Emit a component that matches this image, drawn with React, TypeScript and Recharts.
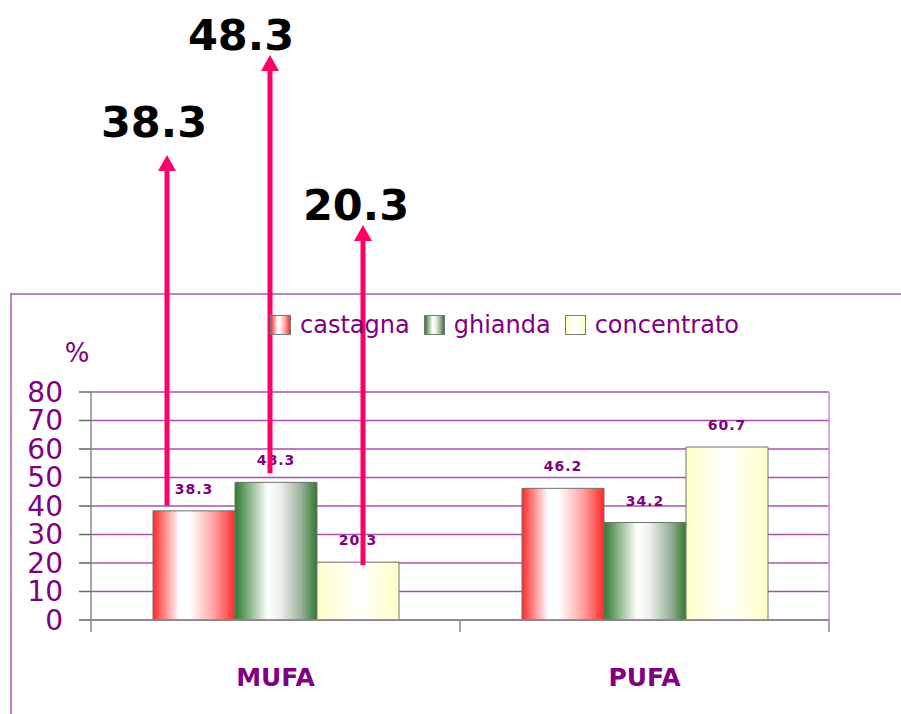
import React from 'react';
import { BarChart, Bar, XAxis, YAxis, CartesianGrid, Legend, LabelList, Label } from 'recharts';

const categories = ['MUFA', 'PUFA'];
const castagna = [38.3, 46.2];
const ghianda = [48.3, 34.2];
const concentrato = [20.3, 60.7];
const yTicks = [0, 10, 20, 30, 40, 50, 60, 70, 80];

const PURPLE = '#800080';
const FONT = '"DejaVu Sans", Verdana, sans-serif';
const PLOT_LEFT = 91;
const PLOT_RIGHT = 829;
const BAND = (PLOT_RIGHT - PLOT_LEFT) / categories.length;

const data = categories.map((name, i) => ({
  name,
  castagna: castagna[i],
  ghianda: ghianda[i],
  concentrato: concentrato[i],
}));

const series = [
  {
    key: 'castagna',
    fill: 'url(#gradCastagna)',
    swatch: 'linear-gradient(90deg,#ff2a2a 0%,#fff 35%,#fff 45%,#ffa0a0 75%,#ff2a2a 100%)',
  },
  {
    key: 'ghianda',
    fill: 'url(#gradGhianda)',
    swatch: 'linear-gradient(90deg,#2f7a2f 0%,#fff 40%,#eef2ee 55%,#9db39d 80%,#2f7a2f 100%)',
  },
  {
    key: 'concentrato',
    fill: 'url(#gradConcentrato)',
    swatch: 'linear-gradient(90deg,#ffffc8 0%,#fff 50%,#ffffc8 100%)',
  },
];

// pink callout arrows over the MUFA bars
const callouts: Record<string, { dx: number; tipY: number; gap: number; labelDx: number; labelY: number }> = {
  castagna: { dx: 14, tipY: 155, gap: 5, labelDx: -13, labelY: 137 },
  ghianda: { dx: 35, tipY: 55, gap: 9, labelDx: -29, labelY: 50 },
  concentrato: { dx: 46, tipY: 225, gap: -3, labelDx: -7, labelY: 220 },
};

const Callout = (props: any) => {
  const { x, y, value, index, seriesKey } = props;
  if (index !== 0) return null;
  const c = callouts[seriesKey];
  const ax = Number(x) + c.dx;
  const bottom = Number(y) - c.gap;
  return (
    <g>
      <line x1={ax} x2={ax} y1={bottom} y2={c.tipY + 12} stroke="#ff0066" strokeWidth={5} />
      <polygon points={`${ax},${c.tipY} ${ax - 9},${c.tipY + 16} ${ax + 9},${c.tipY + 16}`} fill="#ff0066" />
      <text
        x={ax + c.labelDx}
        y={c.labelY}
        textAnchor="middle"
        fontFamily={FONT}
        fontWeight="bold"
        fontSize={43}
        fill="#000"
      >
        {value}
      </text>
    </g>
  );
};

const XTick = (props: any) => {
  const { x, y, payload, index } = props;
  const half = BAND / 2;
  return (
    <g>
      <line x1={x - half} x2={x - half} y1={y} y2={y + 12} stroke="#8a8a8a" strokeWidth={1.5} />
      {index === categories.length - 1 && (
        <line x1={x + half} x2={x + half} y1={y} y2={y + 12} stroke="#8a8a8a" strokeWidth={1.5} />
      )}
      <text x={x} y={y + 66} textAnchor="middle" fontFamily={FONT} fontWeight="bold" fontSize={25} fill={PURPLE}>
        {payload.value}
      </text>
    </g>
  );
};

const LegendBox = () => (
  <div style={{ display: 'flex', alignItems: 'center', fontFamily: FONT, fontSize: 24, color: PURPLE }}>
    {series.map((s) => (
      <span key={s.key} style={{ display: 'flex', alignItems: 'center', marginRight: 14 }}>
        <span
          style={{
            display: 'inline-block',
            width: 19,
            height: 18,
            border: '1px solid #777',
            background: s.swatch,
            marginRight: 9,
          }}
        />
        {s.key}
      </span>
    ))}
  </div>
);

export default function App() {
  return (
    <div style={{ position: 'relative', width: 901, height: 714, overflow: 'hidden', background: '#fff' }}>
      <style>{'body{margin:0}'}</style>
      <div
        style={{
          position: 'absolute',
          left: 10,
          top: 293,
          width: 900,
          height: 430,
          borderTop: '2px solid #c080cc',
          borderLeft: '2px solid #c080cc',
        }}
      />
      <BarChart
        width={901}
        height={714}
        data={data}
        margin={{ top: 392, right: 70, bottom: 14, left: 31 }}
        barSize={82}
        barGap={0}
        style={{ position: 'absolute', left: 0, top: 0 }}
      >
        <defs>
          <linearGradient id="gradCastagna" x1="0" y1="0" x2="1" y2="0">
            <stop offset="0%" stopColor="#ff2a2a" />
            <stop offset="32%" stopColor="#ffffff" />
            <stop offset="45%" stopColor="#ffffff" />
            <stop offset="75%" stopColor="#ffa0a0" />
            <stop offset="100%" stopColor="#ff2a2a" />
          </linearGradient>
          <linearGradient id="gradGhianda" x1="0" y1="0" x2="1" y2="0">
            <stop offset="0%" stopColor="#2f7a2f" />
            <stop offset="40%" stopColor="#ffffff" />
            <stop offset="55%" stopColor="#eef2ee" />
            <stop offset="80%" stopColor="#9db39d" />
            <stop offset="100%" stopColor="#2f7a2f" />
          </linearGradient>
          <linearGradient id="gradConcentrato" x1="0" y1="0" x2="1" y2="0">
            <stop offset="0%" stopColor="#ffffc8" />
            <stop offset="50%" stopColor="#ffffff" />
            <stop offset="100%" stopColor="#ffffc8" />
          </linearGradient>
        </defs>
        <CartesianGrid vertical={false} stroke="#a850b0" strokeWidth={1.5} />
        <XAxis
          dataKey="name"
          height={80}
          axisLine={{ stroke: '#8a8a8a', strokeWidth: 1.5 }}
          tickLine={false}
          tickSize={0}
          tickMargin={0}
          tick={<XTick />}
          interval={0}
        />
        <YAxis
          width={60}
          domain={[0, 80]}
          ticks={yTicks}
          interval={0}
          axisLine={{ stroke: '#8a8a8a', strokeWidth: 1.5 }}
          tickLine={{ stroke: '#666', strokeWidth: 1.5 }}
          tickSize={12}
          tickMargin={16}
          tick={{ fill: PURPLE, fontSize: 28, fontFamily: FONT }}
        >
          <Label value="%" position="top" offset={30} dx={16} fill={PURPLE} fontSize={26} fontFamily={FONT} />
        </YAxis>
        <YAxis
          yAxisId="r"
          orientation="right"
          width={2}
          domain={[0, 80]}
          axisLine={{ stroke: '#c890d0', strokeWidth: 1.5 }}
          tick={false}
          tickLine={false}
        />
        <Legend
          verticalAlign="middle"
          align="center"
          layout="horizontal"
          wrapperStyle={{ top: 311, left: 270, width: 600 }}
          content={() => <LegendBox />}
        />
        {series.map((s) => (
          <Bar key={s.key} dataKey={s.key} fill={s.fill} stroke="#707070" strokeWidth={1} isAnimationActive={false}>
            <LabelList
              dataKey={s.key}
              position="top"
              offset={17}
              fill={PURPLE}
              fontSize={14}
              fontWeight="bold"
              fontFamily={FONT}
              letterSpacing={1}
            />
            <LabelList dataKey={s.key} content={<Callout seriesKey={s.key} />} />
          </Bar>
        ))}
      </BarChart>
    </div>
  );
}
